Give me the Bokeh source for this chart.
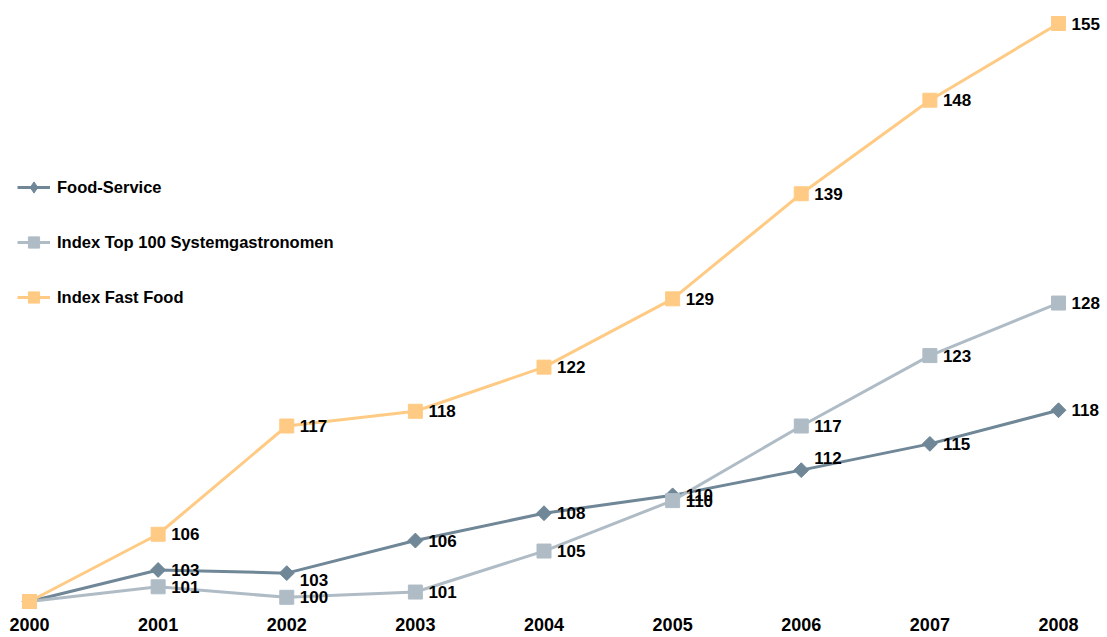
import math
from bokeh.plotting import figure
from bokeh.models import (ColumnDataSource, Range1d, FixedTicker, Legend, LegendItem,
                          BasicTickFormatter)
from bokeh.core.properties import value
from bokeh.embed import file_html
from bokeh.resources import INLINE

years = [2000, 2001, 2002, 2003, 2004, 2005, 2006, 2007, 2008]
food_service = [100.0, 103.0, 102.7, 105.8, 108.4, 110.1, 112.5, 115.0, 118.2]
top100 = [100.0, 101.4, 100.4, 100.9, 104.8, 109.6, 116.7, 123.4, 128.4]
fast_food = [100.0, 106.4, 116.7, 118.1, 122.3, 128.8, 138.8, 147.7, 155.0]
series_names = ["Food-Service", "Index Top 100 Systemgastronomen", "Index Fast Food"]

FONT = value("Liberation Sans")
colors = ["#6F8797", "#AFBCC6", "#FFCB84"]

p = figure(width=1107, height=637, output_backend="svg", toolbar_location=None,
           x_range=Range1d(1999.7745, 2008.3809), y_range=Range1d(98.668, 157.189),
           min_border_left=0, min_border_right=0, min_border_top=0, min_border_bottom=0)
p.frame_width = 1107
p.frame_height = 615
p.outline_line_color = None
p.xgrid.visible = False
p.ygrid.visible = False
p.yaxis.visible = False
ax = p.xaxis[0]
ax.ticker = FixedTicker(ticks=years)
ax.formatter = BasicTickFormatter(use_scientific=False)
ax.axis_line_color = None
ax.major_tick_line_color = None
ax.minor_tick_line_color = None
ax.major_tick_out = 0
ax.major_label_standoff = 2
ax.major_label_text_font = "Liberation Sans"
ax.major_label_text_font_style = "bold"
ax.major_label_text_font_size = "18px"
ax.major_label_text_color = "black"

data = [food_service, top100, fast_food]
angles = [math.pi / 4, 0, 0]
sizes = [10.5, 14, 14]
legend_markers = ["diamond", "square", "square"]
nan = float("nan")
items = []
for vals, col, ang, sz, lmk, name in zip(data, colors, angles, sizes, legend_markers, series_names):
    src = ColumnDataSource(dict(x=years, y=vals))
    lr = p.line("x", "y", source=src, line_color=col, line_width=3)
    p.scatter("x", "y", source=src, marker="square", size=sz, angle=ang,
              fill_color=col, line_color=col)
    # legend-only marker renderer (NaN coordinates, never drawn in the plot)
    dummy = p.scatter(x=[nan], y=[nan], marker=lmk, fill_color=col, line_color=col)
    items.append(LegendItem(label=name, renderers=[lr, dummy]))

# value labels (skip base year)
label_dy = [
    [0, 0, 7, 0, 0, 0, -12, 0, 0],
    [0, 0, 0, 0, 0, 0, 0, 0, 0],
    [0, 0, 0, 0, 0, 0, 0, 0, 0],
]
for vals, dys in zip(data, label_dy):
    src = ColumnDataSource(dict(x=years[1:], y=vals[1:],
                                t=[str(int(round(v))) for v in vals[1:]],
                                dy=dys[1:]))
    p.text("x", "y", text="t", source=src, x_offset=13, y_offset="dy",
           text_baseline="middle", text_align="left", text_font=FONT,
           text_font_style="bold", text_font_size="17px", text_color="black")

legend = Legend(items=items, location=(17, 304), orientation="vertical",
                glyph_width=33, glyph_height=28, label_height=28, spacing=27,
                label_standoff=7, padding=0, margin=0,
                border_line_color=None, background_fill_alpha=0,
                label_text_font="Liberation Sans", label_text_font_style="bold",
                label_text_font_size="16.5px", label_text_color="black")
p.add_layout(legend, "center")

open("out.html", "w").write(file_html(p, INLINE))
